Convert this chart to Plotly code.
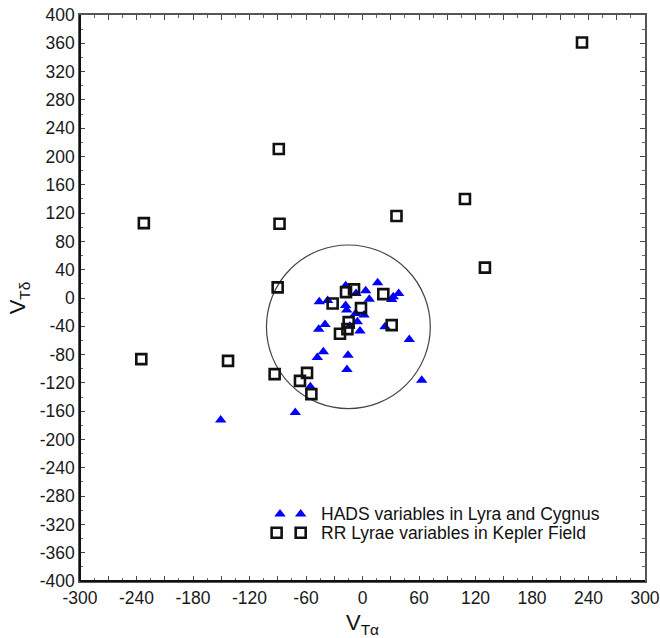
import plotly.graph_objects as go

# ---- data ----
hads_x = [-17.9, 16.1, 3.4, 7.2, -6.9, 32.7, 38.4, 31.0, -45.9, -37.0, -17.9, -16.8, -7.3, 1.6,
          -5.5, -39.8, -46.5, -2.7, 23.9, 49.7, -41.6, -48.0, -15.4, -16.5, 62.9, -55.4, -71.4, -150.6,
          -13.5]
hads_y = [17.3, 21.5, 10.2, -1.6, 6.5, 1.7, 6.5, -2.0, -5.4, -3.4, -10.5, -17.1, -21.8, -24.2,
          -33.7, -37.4, -44.0, -46.8, -40.7, -58.6, -76.0, -84.0, -80.8, -101.0, -116.1, -125.6, -161.8, -172.5,
          -40.0]

rr_x = [233.1, -88.9, -232.2, -88.1, 36.1, 108.8, 130.0, -90.1, -17.5, -9.0, -31.7, 22.1, -1.6,
        -14.7, -16.0, -23.9, 31.0, -234.9, -142.8, -93.3, -66.4, -58.9, -54.3]
rr_y = [361.1, 210.6, 105.9, 105.0, 115.8, 139.9, 43.0, 15.0, 8.3, 12.2, -7.7, 5.5, -14.3,
        -34.1, -44.0, -50.6, -38.3, -86.4, -88.8, -107.6, -117.1, -105.8, -135.9]

hads_name = "HADS variables in Lyra and Cygnus"
rr_name = "RR Lyrae variables in Kepler Field"

x_ticks = list(range(-300, 301, 30))
x_labels = [str(v) if v % 60 == 0 else "" for v in x_ticks]
y_ticks = list(range(-400, 401, 40))
y_labels = [str(v) for v in y_ticks]

# circle (velocity ellipse) parameters
circ_cx, circ_cy, circ_rx, circ_ry = -15.0, -40.7, 87.0, 115.6

tri_style = dict(symbol="triangle-up", size=10, color="#0000ff", line=dict(width=0))
sq_style = dict(symbol="square-open", size=10, color="#111111", line=dict(width=2.6, color="#111111"))

fig = go.Figure()
fig.add_trace(go.Scatter(x=hads_x, y=hads_y, mode="markers", marker=tri_style, name=hads_name,
                         showlegend=False))
fig.add_trace(go.Scatter(x=rr_x, y=rr_y, mode="markers", marker=sq_style, name=rr_name,
                         showlegend=False))

# legend symbols on an invisible overlay axis (0..1 paper-like)
fig.add_trace(go.Scatter(x=[0.354, 0.3906], y=[0.1184, 0.1184], mode="markers", marker=tri_style,
                         xaxis="x2", yaxis="y2", showlegend=False, hoverinfo="skip"))
fig.add_trace(go.Scatter(x=[0.348, 0.3906], y=[0.0853, 0.0853], mode="markers", marker=sq_style,
                         xaxis="x2", yaxis="y2", showlegend=False, hoverinfo="skip"))

fig.add_shape(type="circle", xref="x", yref="y",
              x0=circ_cx - circ_rx, x1=circ_cx + circ_rx,
              y0=circ_cy - circ_ry, y1=circ_cy + circ_ry,
              line=dict(color="#444444", width=1.2), layer="below")

# darker left / bottom frame lines
fig.add_shape(type="line", xref="paper", yref="paper", x0=0, x1=0, y0=0, y1=1,
              line=dict(color="#111111", width=2))
fig.add_shape(type="line", xref="paper", yref="paper", x0=0, x1=1, y0=0, y1=0,
              line=dict(color="#111111", width=2))

font_main = "Liberation Sans, Arial, sans-serif"
fig.add_annotation(text=hads_name, xref="paper", yref="paper", x=0.4235, y=0.1184,
                   xanchor="left", yanchor="middle", showarrow=False,
                   font=dict(family=font_main, size=17.5, color="#111111"))
fig.add_annotation(text=rr_name, xref="paper", yref="paper", x=0.4235, y=0.0853,
                   xanchor="left", yanchor="middle", showarrow=False,
                   font=dict(family=font_main, size=17.5, color="#111111"))

axis_common = dict(showgrid=False, zeroline=False, showline=True, linecolor="#555555", linewidth=1.5,
                   mirror="allticks", ticks="inside", ticklen=5, tickwidth=1, tickcolor="#444444",
                   automargin=False,
                   tickfont=dict(family=font_main, size=17.5, color="#1a1a1a"))

fig.update_layout(
    width=660, height=638,
    margin=dict(l=80, r=15, t=15, b=57),
    paper_bgcolor="white", plot_bgcolor="white",
    showlegend=False,
    xaxis=dict(range=[-300, 300], tickmode="array", tickvals=x_ticks, ticktext=x_labels,
               minor=dict(dtick=15, tick0=0, ticks="inside", ticklen=3, tickcolor="#666666"),
               title=dict(text="V<sub>Tα</sub>", font=dict(family=font_main, size=22, color="#111111"),
                          standoff=12),
               **axis_common),
    yaxis=dict(range=[-400, 400], tickmode="array", tickvals=y_ticks, ticktext=y_labels,
               minor=dict(dtick=20, tick0=0, ticks="inside", ticklen=3, tickcolor="#666666"),
               title=dict(text="V<sub>Tδ</sub>", font=dict(family=font_main, size=22, color="#111111"),
                          standoff=8),
               **axis_common),
    xaxis2=dict(range=[0, 1], overlaying="x", visible=False),
    yaxis2=dict(range=[0, 1], overlaying="y", visible=False),
)

fig.write_html("out.html")
